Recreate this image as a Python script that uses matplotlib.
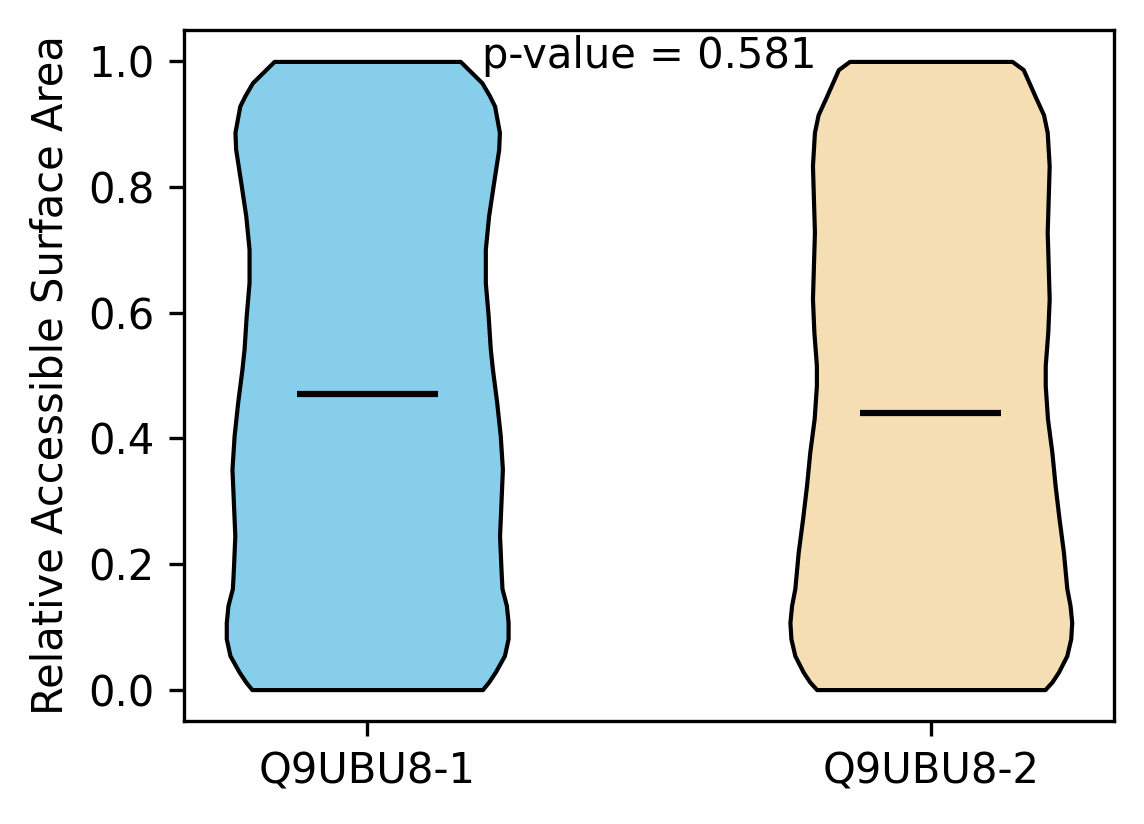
import matplotlib
matplotlib.use("Agg")
import matplotlib.pyplot as plt

## Dados (densidade relativa do violino em cada nivel de RSA)
labels = ['Q9UBU8-1', 'Q9UBU8-2']
colors = ['skyblue', 'wheat']
p_value = 0.581

rsa_1 = [0.0, 0.012, 0.028, 0.054, 0.081, 0.107, 0.134, 0.161, 0.192, 0.245,
         0.298, 0.351, 0.404, 0.457, 0.51, 0.542, 0.595, 0.648, 0.701, 0.754,
         0.807, 0.86, 0.887, 0.929, 0.945, 0.966, 0.983, 1.0]
dens_1 = [0.81, 0.853, 0.90, 0.964, 0.99, 0.99, 0.978, 0.947, 0.94, 0.93,
          0.94, 0.95, 0.935, 0.91, 0.88, 0.865, 0.85, 0.83, 0.83, 0.853,
          0.888, 0.924, 0.929, 0.895, 0.86, 0.806, 0.73, 0.654]
mean_1 = 0.47

rsa_2 = [0.0, 0.012, 0.028, 0.054, 0.081, 0.107, 0.134, 0.161, 0.219, 0.272,
         0.325, 0.378, 0.431, 0.484, 0.516, 0.569, 0.622, 0.675, 0.728, 0.781,
         0.834, 0.887, 0.915, 0.942, 0.987, 1.0]
dens_2 = [0.81, 0.859, 0.906, 0.965, 0.993, 1.0, 0.988, 0.965, 0.941, 0.91,
          0.882, 0.859, 0.828, 0.812, 0.812, 0.83, 0.84, 0.833, 0.826, 0.833,
          0.84, 0.826, 0.80, 0.745, 0.656, 0.577]
mean_2 = 0.44

## Estatisticas para ax.violin
vpstats = []
for rsa, dens, mu in [(rsa_1, dens_1, mean_1), (rsa_2, dens_2, mean_2)]:
    vpstats.append({'coords': rsa, 'vals': dens, 'mean': mu,
                    'median': mu, 'min': min(rsa), 'max': max(rsa)})

## Figura
fig = plt.figure(figsize=(1144 / 300, 824 / 300), dpi=300)
ax = fig.add_axes([184 / 1144, 1 - 721 / 824, 930 / 1144, 691 / 824])

parts = ax.violin(vpstats, positions=[1, 2], widths=0.5,
                  showmeans=True, showextrema=False, showmedians=False)
for body, c in zip(parts['bodies'], colors):
    body.set_facecolor(c)
    body.set_edgecolor('black')
    body.set_linewidth(1)
    body.set_alpha(1)
parts['cmeans'].set_color('black')
parts['cmeans'].set_linewidth(1.5)

ax.set_xticks([1, 2])
ax.set_xticklabels(labels)
ax.set_ylabel('Relative Accessible Surface Area')
ax.set_xlim(0.675, 2.325)
ax.set_ylim(-0.05, 1.05)
ax.text(1.5, 0.99, 'p-value = %.3f' % p_value, ha='center')

fig.savefig('out.png', dpi=300)
